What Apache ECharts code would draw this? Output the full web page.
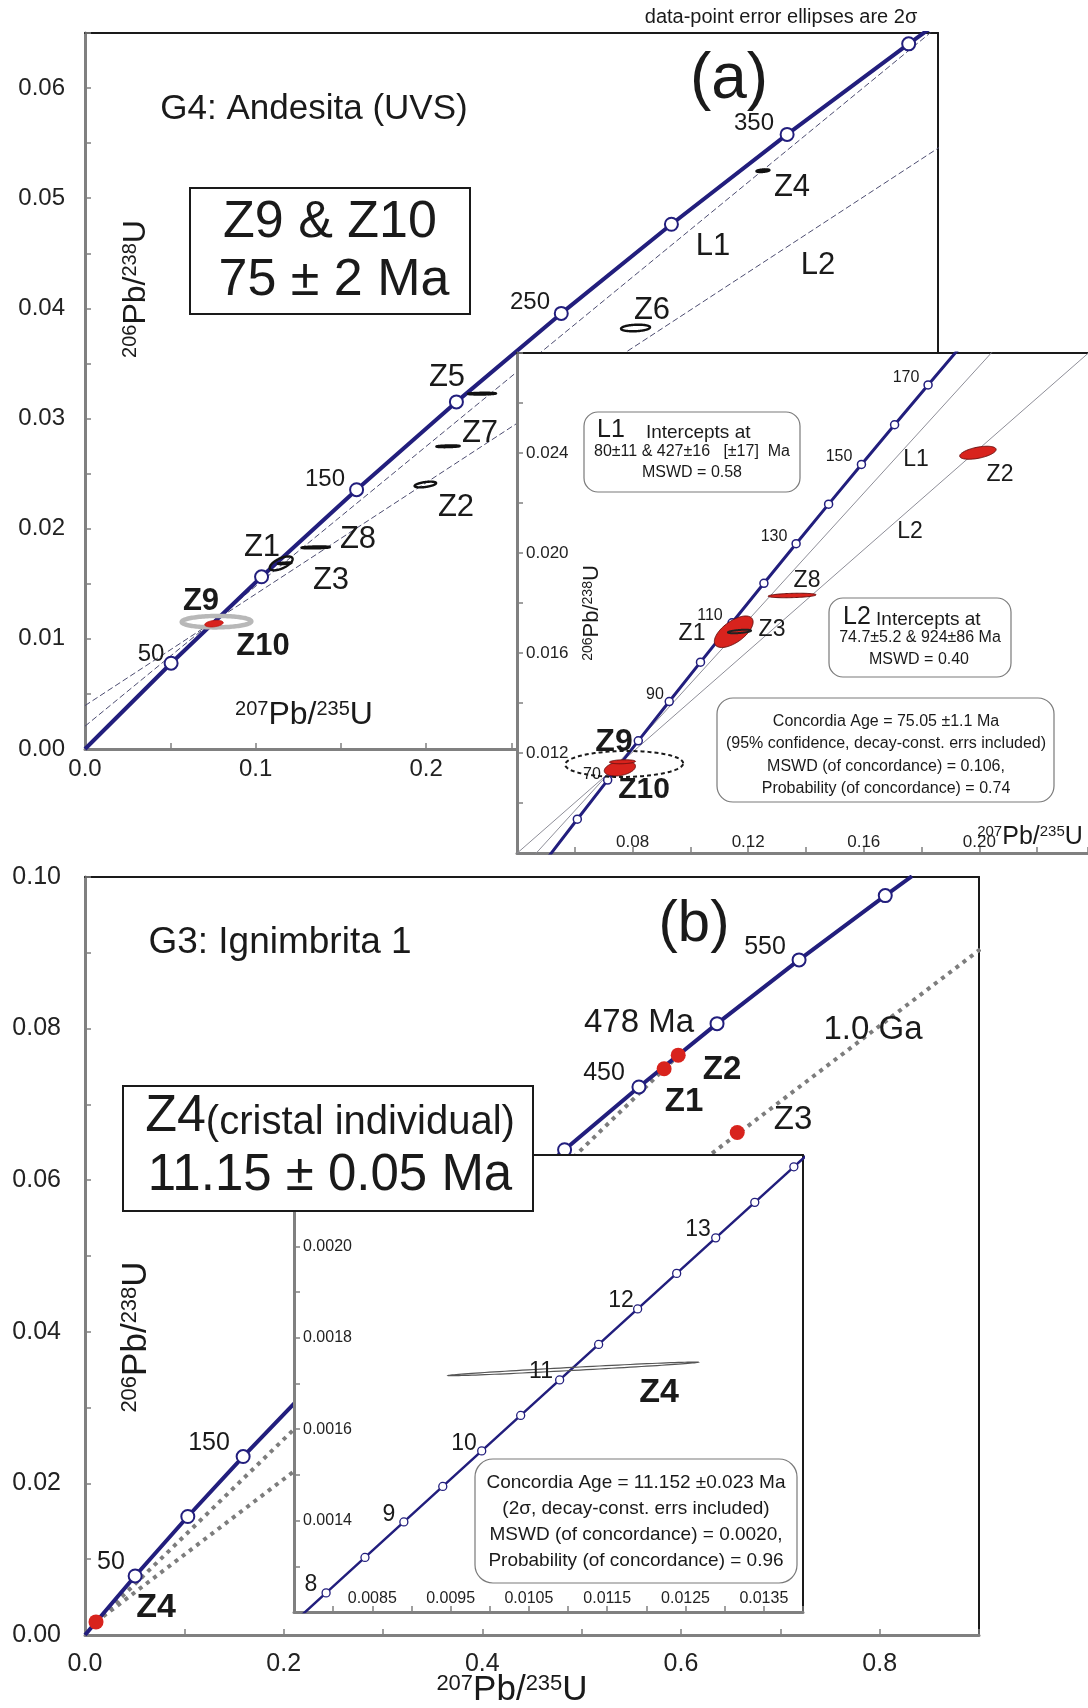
<!DOCTYPE html>
<html><head><meta charset="utf-8">
<script src="https://cdn.jsdelivr.net/npm/echarts/dist/echarts.min.js"></script>
<style>html,body{margin:0;padding:0;background:#fff}#c{width:1088px;height:1708px}</style>
</head><body><div id="c"></div>
<script>
// ---------------- DATA ----------------
// Panel (a) main: concordia points (Ma) and ratios
const mainA_ages = [0, 50, 100, 150, 200, 250, 300, 350, 400, 420];
const mainA_concX = [0, 0.050475, 0.103498, 0.159197, 0.217707, 0.279171, 0.343737, 0.411562, 0.482812, 0.512308];
const mainA_concY = [0, 0.0077864, 0.0156334, 0.0235416, 0.0315113, 0.0395430, 0.0476373, 0.0557947, 0.0640155, 0.0673218];
const mainA_markerAges = [50, 100, 150, 200, 250, 300, 350, 400];
// Panel (a) inset concordia
const insetA_ages = [40, 50, 60, 70, 80, 90, 100, 110, 120, 130, 140, 150, 160, 170, 180, 190];
const insetA_concX = [0.040180, 0.050475, 0.060872, 0.071371, 0.081975, 0.092683, 0.103498, 0.114419, 0.125449, 0.136588, 0.147837, 0.159197, 0.170670, 0.182256, 0.193957, 0.205774];
const insetA_concY = [0.0062243, 0.0077864, 0.0093509, 0.0109179, 0.0124873, 0.0140592, 0.0156334, 0.0172102, 0.0187893, 0.0203710, 0.0219550, 0.0235416, 0.0251306, 0.0267220, 0.0283160, 0.0299124];
const insetA_markerAges = [60, 70, 80, 90, 100, 110, 120, 130, 140, 150, 160, 170];
// Discordia lines (a): [x, y] end points
const lineL1 = [[0, 0.00207], [0.53, 0.06940]];
const lineL2 = [[0, 0.00394], [0.55, 0.05960]];
// Error ellipses (a): [cx, cy, sx, sy, rho]
const ellZ1 = [0.1150, 0.01685, 0.0067, 0.00063, 0.62];
const ellZ2 = [0.1995, 0.02401, 0.0063, 0.00026, 0.5];
const ellZ3 = [0.1170, 0.01686, 0.0040, 0.00007, 0.5];
const ellZ4 = [0.3974, 0.0525, 0.0038, 0.00012, 0.4];
const ellZ5 = [0.2327, 0.03226, 0.0082, 0.00008, 0.2];
const ellZ6 = [0.3227, 0.03822, 0.0085, 0.00030, 0.2];
const ellZ7 = [0.2128, 0.02748, 0.0068, 0.00008, 0.3];
const ellZ8 = [0.1352, 0.01830, 0.0083, 0.00009, 0.3];
const ellZ9 = [0.0771, 0.01156, 0.0204, 0.00052, 0.05];
const ellZ10 = [0.0756, 0.01138, 0.0054, 0.00030, 0.3];
const ellZ10b = [0.0765, 0.01165, 0.0045, 0.00008, 0.2];
// Panel (b) main concordia
const mainB_ages = [0, 50, 100, 150, 200, 250, 300, 350, 400, 450, 500, 550, 600, 615];
const mainB_concX = [0, 0.050475, 0.103498, 0.159197, 0.217707, 0.279171, 0.343737, 0.411562, 0.482812, 0.557657, 0.636279, 0.718871, 0.805631, 0.832503];
const mainB_concY = [0, 0.0077864, 0.0156334, 0.0235416, 0.0315113, 0.0395430, 0.0476373, 0.0557947, 0.0640155, 0.0723004, 0.0806498, 0.0890642, 0.097544, 0.1001009];
const mainB_markerAges = [50, 100, 150, 200, 250, 300, 350, 400, 450, 500, 550, 600];
// Panel (b) dotted reference lines
const lineB478 = [[0.0111, 0.00173], [0.6012, 0.07697]];
const lineB1Ga = [[0.0111, 0.00173], [1.6774, 0.16782]];
// Panel (b) zircon points
const pointNamesB = ['Z1', 'Z2', 'Z3', 'Z4'];
const pointXB = [0.583, 0.5972, 0.6566, 0.0111];
const pointYB = [0.0747, 0.0765, 0.0663, 0.00173];
// Panel (b) inset concordia
const insetB_ages = [7.5, 8, 8.5, 9, 9.5, 10, 10.5, 11, 11.5, 12, 12.5, 13, 13.5, 14, 14.5];
const insetB_concX = [0.0074137, 0.0079099, 0.0084064, 0.0089030, 0.0093999, 0.0098972, 0.0103946, 0.0108923, 0.0113902, 0.0118883, 0.0123867, 0.0128854, 0.0133843, 0.0138834, 0.0143825];
const insetB_concY = [0.0011641, 0.0012418, 0.0013194, 0.0013971, 0.0014748, 0.0015525, 0.0016301, 0.0017078, 0.0017855, 0.0018632, 0.0019409, 0.0020187, 0.0020964, 0.0021741, 0.0022518];
const insetB_markerAges = [8, 8.5, 9, 9.5, 10, 10.5, 11, 11.5, 12, 12.5, 13, 13.5, 14];
const ellZ4b = [0.011066, 0.001732, 0.0016, 0.0000150, 0.975];

// ---------------- STYLE ----------------
const FONT = "'Liberation Sans', Arial, Helvetica, sans-serif";
const NAVY = '#221e7d';
const RED = '#d8231d';
const AXG = '#808080';
const TXT = '#1a1a1a';

function pairs(xs, ys) { return xs.map((x, i) => [x, ys[i]]); }
function markers(ages, xs, ys, mAges) {
  const out = [];
  ages.forEach((a, i) => { if (mAges.indexOf(a) >= 0) out.push([xs[i], ys[i]]); });
  return out;
}
function isMult(v, s) { const r = v / s; return Math.abs(r - Math.round(r)) < 1e-6; }

function xAx(grid, min, max, interval, fmt, o) {
  return {
    type: 'value', gridIndex: grid, position: 'bottom', min, max, interval, zlevel: o.zl || 0, z: 1,
    axisLine: { show: true, onZero: false, lineStyle: { color: AXG, width: 3 } },
    axisTick: { show: true, inside: true, length: 6, lineStyle: { color: AXG, width: 1.5 } },
    splitLine: { show: false },
    axisLabel: { show: true, formatter: fmt, inside: !!o.inside, margin: o.margin, fontSize: o.fs, fontFamily: FONT, color: '#222', showMinLabel: true, showMaxLabel: true, hideOverlap: false }
  };
}
function yAx(grid, min, max, interval, fmt, o) {
  return {
    type: 'value', gridIndex: grid, position: 'left', min, max, interval, zlevel: o.zl || 0, z: 1,
    axisLine: { show: true, onZero: false, lineStyle: { color: AXG, width: 3 } },
    axisTick: { show: true, inside: true, length: 6, lineStyle: { color: AXG, width: 1.5 } },
    splitLine: { show: false },
    axisLabel: { show: true, formatter: fmt, inside: !!o.inside, margin: o.margin, fontSize: o.fs, fontFamily: FONT, color: '#222', showMinLabel: true, showMaxLabel: true, hideOverlap: false, padding: o.pad || 0 }
  };
}
function borderAx(kind, grid, min, max, zl, show) {
  return {
    type: 'value', gridIndex: grid, position: kind === 'x' ? 'top' : 'right', min, max, zlevel: zl, z: 1,
    axisLine: { show: show, onZero: false, lineStyle: { color: '#1a1a1a', width: 2 } },
    axisTick: { show: false }, axisLabel: { show: false }, splitLine: { show: false }
  };
}

function ellipseRender(style) {
  return function (params, api) {
    const cx = api.value(0), cy = api.value(1), sx = api.value(2), sy = api.value(3), r = api.value(4);
    const k = Math.sqrt(1 - r * r);
    const pts = [];
    for (let i = 0; i < 120; i++) {
      const t = i / 120 * 2 * Math.PI;
      pts.push(api.coord([cx + sx * Math.cos(t), cy + sy * (r * Math.cos(t) + k * Math.sin(t))]));
    }
    return { type: 'polygon', shape: { points: pts }, style: Object.assign({}, style) };
  };
}
function ellSeries(xi, data, style, zl, z) {
  return {
    type: 'custom', xAxisIndex: xi, yAxisIndex: xi, coordinateSystem: 'cartesian2d', zlevel: zl, z: z,
    data: data, encode: { x: 0, y: 1 }, renderItem: ellipseRender(style), silent: true, clip: true
  };
}
function lineSeries(xi, data, ls, zl, z) {
  return { type: 'line', xAxisIndex: xi, yAxisIndex: xi, data, symbol: 'none', lineStyle: ls, zlevel: zl, z: z, silent: true, clip: true, animation: false };
}
function markSeries(xi, data, size, bw, zl, z) {
  return { type: 'scatter', xAxisIndex: xi, yAxisIndex: xi, data, symbol: 'circle', symbolSize: size,
    itemStyle: { color: '#fff', borderColor: NAVY, borderWidth: bw, opacity: 1 }, zlevel: zl, z: z, silent: true };
}

// graphic helpers
function T(text, x, y, size, o) {
  o = o || {};
  return { type: 'text', x, y, z: o.z || 50, zlevel: o.zl || 0, rotation: o.rot || 0, silent: true,
    style: { text, fontSize: size, fontFamily: FONT, fontWeight: o.bold ? 'bold' : 'normal', fill: o.color || TXT,
      align: o.align || 'center', verticalAlign: 'middle', textAlign: o.align || 'center', textVerticalAlign: 'middle', rich: o.rich } };
}
function iso(a, b, c, d, m, s, x, y, o) {
  o = o || {};
  const rich = {
    s: { fontSize: s, fontFamily: FONT, verticalAlign: 'top', lineHeight: s, fill: TXT, color: TXT },
    m: { fontSize: m, fontFamily: FONT, verticalAlign: 'bottom', lineHeight: m, fill: TXT, color: TXT }
  };
  return T('{s|' + a + '}{m|' + b + '}{s|' + c + '}{m|' + d + '}', x, y, m, Object.assign({}, o, { rich }));
}
function R(x, y, w, h, o) {
  o = o || {};
  return { type: 'rect', shape: { x, y, width: w, height: h, r: o.r || 0 }, z: o.z || 40, zlevel: o.zl || 0, silent: true,
    style: { fill: '#fff', stroke: o.stroke || '#1a1a1a', lineWidth: o.lw || 2 } };
}
function boxHead(label, rest, x, y) {
  return T('{b|' + label + '}{n|' + rest + '}', x, y, 19, { zl: 1, align: 'left', rich: {
    b: { fontSize: 25, fontFamily: FONT, verticalAlign: 'bottom', lineHeight: 25, fill: TXT },
    n: { fontSize: 19, fontFamily: FONT, verticalAlign: 'bottom', lineHeight: 21, fill: TXT } } });
}

const graphics = [
  // ---- panel (a) main
  T('data-point error ellipses are 2\u03c3', 781, 17, 20),
  T('(a)', 729, 80, 64),
  T('G4: Andesita (UVS)', 314, 109, 35),
  R(190, 188, 280, 126),
  T('Z9 & Z10', 330, 223, 52),
  T('75 \u00b1 2 Ma', 334, 281, 52),
  iso('206', 'Pb/', '238', 'U', 32, 20, 136, 289, { rot: Math.PI / 2 }),
  iso('207', 'Pb/', '235', 'U', 32, 20, 304, 715),
  T('50', 151, 654, 24), T('150', 325, 479, 24), T('250', 530, 302, 24), T('350', 754, 123, 24),
  T('Z4', 792, 187, 31), T('L1', 713, 246, 31), T('L2', 818, 265, 31), T('Z6', 652, 310, 31),
  T('Z5', 447, 377, 31), T('Z7', 480, 433, 31), T('Z2', 456, 507, 31), T('Z8', 358, 539, 31),
  T('Z1', 262, 547, 31), T('Z3', 331, 580, 31),
  T('Z9', 201, 601, 31, { bold: true }), T('Z10', 263, 646, 31, { bold: true }),
  // ---- panel (a) inset
  T('70', 592, 775, 16, { zl: 1 }), T('90', 655, 695, 16, { zl: 1 }), T('110', 710, 616, 16, { zl: 1 }),
  T('130', 774, 537, 16, { zl: 1 }), T('150', 839, 457, 16, { zl: 1 }), T('170', 906, 378, 16, { zl: 1 }),
  T('L1', 916, 460, 23, { zl: 1 }), T('L2', 910, 532, 23, { zl: 1 }), T('Z2', 1000, 475, 23, { zl: 1 }),
  T('Z8', 807, 581, 23, { zl: 1 }), T('Z3', 772, 630, 23, { zl: 1 }), T('Z1', 692, 634, 23, { zl: 1 }),
  T('Z9', 614, 742, 32, { zl: 1, bold: true }), T('Z10', 644, 790, 30, { zl: 1, bold: true }),
  iso('206', 'Pb/', '238', 'U', 22, 14, 592, 613, { zl: 1, rot: Math.PI / 2 }),
  iso('207', 'Pb/', '235', 'U', 25, 15, 1030, 837, { zl: 1 }),
  R(584, 412, 216, 80, { zl: 1, r: 14, stroke: '#7a7a7a', lw: 1.2 }),
  boxHead('L1', '    Intercepts at', 597, 430),
  T('80\u00b111 & 427\u00b116   [\u00b117]  Ma', 692, 452, 16, { zl: 1 }),
  T('MSWD = 0.58', 692, 473, 16, { zl: 1 }),
  R(829, 598, 182, 79, { zl: 1, r: 14, stroke: '#7a7a7a', lw: 1.2 }),
  boxHead('L2', ' Intercepts at', 843, 617),
  T('74.7\u00b15.2 & 924\u00b186 Ma', 920, 638, 16, { zl: 1 }),
  T('MSWD = 0.40', 919, 660, 16, { zl: 1 }),
  R(717, 698, 337, 104, { zl: 1, r: 16, stroke: '#7a7a7a', lw: 1.2 }),
  T('Concordia Age = 75.05 \u00b11.1 Ma', 886, 722, 16, { zl: 1 }),
  T('(95% confidence, decay-const. errs included)', 886, 744, 16, { zl: 1 }),
  T('MSWD (of concordance) = 0.106,', 886, 767, 16, { zl: 1 }),
  T('Probability (of concordance) = 0.74', 886, 789, 16, { zl: 1 }),
  // ---- panel (b) main
  T('G3: Ignimbrita 1', 280, 943, 37),
  T('(b)', 694, 925, 58),
  T('550', 765, 947, 25), T('478 Ma', 639, 1023, 33), T('450', 604, 1073, 25),
  T('Z2', 722, 1070, 33, { bold: true }), T('Z1', 684, 1102, 33, { bold: true }), T('Z3', 793, 1120, 33),
  T('1.0 Ga', 873, 1030, 33),
  T('150', 209, 1443, 25), T('50', 111, 1562, 25), T('Z4', 156, 1608, 34, { bold: true }),
  iso('206', 'Pb/', '238', 'U', 35, 22, 136, 1337, { rot: Math.PI / 2 }),
  iso('207', 'Pb/', '235', 'U', 35, 22, 512, 1690),
  // ---- panel (b) inset
  T('8', 311, 1585, 23, { zl: 1 }), T('9', 389, 1515, 23, { zl: 1 }), T('10', 464, 1444, 23, { zl: 1 }),
  T('11', 541, 1372, 23, { zl: 1 }), T('12', 621, 1301, 23, { zl: 1 }), T('13', 698, 1230, 23, { zl: 1 }),
  T('Z4', 659, 1393, 34, { zl: 1, bold: true }),
  R(475, 1459, 322, 124, { zl: 1, r: 18, stroke: '#7a7a7a', lw: 1.2 }),
  T('Concordia Age = 11.152 \u00b10.023 Ma', 636, 1483, 19, { zl: 1 }),
  T('(2\u03c3, decay-const. errs included)', 636, 1509, 19, { zl: 1 }),
  T('MSWD (of concordance) = 0.0020,', 636, 1535, 19, { zl: 1 }),
  T('Probability (of concordance) = 0.96', 636, 1561, 19, { zl: 1 }),
  // ---- Z4 box (b), on top of inset
  R(123, 1086, 410, 125, { zl: 2 }),
  T('{b|Z4}{n|(cristal individual)}', 330, 1117, 40, { zl: 2, rich: {
    b: { fontSize: 52, fontFamily: FONT, verticalAlign: 'bottom', lineHeight: 52, fill: TXT },
    n: { fontSize: 40, fontFamily: FONT, verticalAlign: 'bottom', lineHeight: 44, fill: TXT } } }),
  T('11.15 \u00b1 0.05 Ma', 330, 1176, 51, { zl: 2 })
];

const option = {
  animation: false,
  backgroundColor: '#fff',
  grid: [
    { left: 85, top: 33, width: 853, height: 716, outerBoundsMode: 'none' },
    { left: 517, top: 353, width: 571, height: 500, show: true, backgroundColor: '#fff', borderWidth: 0, zlevel: 1, z: 0, outerBoundsMode: 'none' },
    { left: 85, top: 877, width: 894, height: 758, outerBoundsMode: 'none' },
    { left: 294, top: 1155, width: 509, height: 457, show: true, backgroundColor: '#fff', borderWidth: 0, zlevel: 1, z: 0, outerBoundsMode: 'none' }
  ],
  xAxis: [
    xAx(0, 0, 0.5, 0.05, v => isMult(v, 0.1) ? v.toFixed(1) : '', { fs: 24, margin: 8 }),
    borderAx('x', 0, 0, 0.5, 0, true),
    xAx(1, 0.04, 0.2376, 0.02, v => (isMult(v, 0.04) && v > 0.05 && v < 0.23) ? v.toFixed(2) : '', { fs: 17, margin: 2, inside: true, zl: 1 }),
    borderAx('x', 1, 0.04, 0.2376, 1, true),
    xAx(2, 0, 0.9, 0.1, v => isMult(v, 0.2) ? v.toFixed(1) : '', { fs: 25, margin: 17 }),
    borderAx('x', 2, 0, 0.9, 0, true),
    xAx(3, 0.0075, 0.014, 0.0005, v => (isMult(v - 0.0005, 0.001) && v > 0.008) ? v.toFixed(4) : '', { fs: 16, margin: 5, inside: true, zl: 1 }),
    borderAx('x', 3, 0.0075, 0.014, 1, true)
  ],
  yAxis: [
    yAx(0, 0, 0.065, 0.005, v => isMult(v, 0.01) ? v.toFixed(2) : '', { fs: 24, margin: 20 }),
    borderAx('y', 0, 0, 0.065, 0, true),
    yAx(1, 0.008, 0.028, 0.002, v => (isMult(v, 0.004) && v > 0.009 && v < 0.027) ? v.toFixed(3) : '', { fs: 17, margin: 9, inside: true, zl: 1, pad: [0, 0, 8, 0] }),
    borderAx('y', 1, 0.008, 0.028, 1, false),
    yAx(2, 0, 0.1, 0.01, v => isMult(v, 0.02) ? v.toFixed(2) : '', { fs: 25, margin: 24 }),
    borderAx('y', 2, 0, 0.1, 0, true),
    yAx(3, 0.0012, 0.0022, 0.0001, v => (isMult(v, 0.0002) && v > 0.0013 && v < 0.0021) ? v.toFixed(4) : '', { fs: 16, margin: 9, inside: true, zl: 1 }),
    borderAx('y', 3, 0.0012, 0.0022, 1, true)
  ],
  series: [
    // panel (a) main
    lineSeries(0, lineL1, { color: '#4c4c70', width: 1, type: [6, 3] }, 0, 2),
    lineSeries(0, lineL2, { color: '#4c4c70', width: 1, type: [6, 3] }, 0, 2),
    lineSeries(0, pairs(mainA_concX, mainA_concY), { color: NAVY, width: 4 }, 0, 3),
    ellSeries(0, [ellZ1, ellZ3, ellZ8, ellZ2, ellZ7, ellZ5, ellZ6, ellZ4], { fill: 'rgba(0,0,0,0)', stroke: '#111', lineWidth: 2.4 }, 0, 4),
    ellSeries(0, [ellZ9], { fill: 'rgba(0,0,0,0)', stroke: '#b8b8b8', lineWidth: 4.5 }, 0, 5),
    ellSeries(0, [ellZ10], { fill: RED, stroke: '#c01c16', lineWidth: 1 }, 0, 6),
    markSeries(0, markers(mainA_ages, mainA_concX, mainA_concY, mainA_markerAges), 13, 2, 0, 7),
    // panel (a) inset
    lineSeries(2, lineL1, { color: '#8e8e98', width: 1 }, 1, 2),
    lineSeries(2, lineL2, { color: '#8e8e98', width: 1 }, 1, 2),
    lineSeries(2, pairs(insetA_concX, insetA_concY), { color: NAVY, width: 3 }, 1, 3),
    markSeries(2, markers(insetA_ages, insetA_concX, insetA_concY, insetA_markerAges), 8, 1.5, 1, 4),
    ellSeries(2, [ellZ1, ellZ2, ellZ8, ellZ10, ellZ10b], { fill: RED, stroke: '#6a1010', lineWidth: 1 }, 1, 5),
    ellSeries(2, [ellZ3], { fill: 'rgba(0,0,0,0)', stroke: '#222', lineWidth: 2 }, 1, 6),
    ellSeries(2, [ellZ9], { fill: 'rgba(0,0,0,0)', stroke: '#1a1a1a', lineWidth: 2, lineDash: [4, 3] }, 1, 6),
    // panel (b) main
    lineSeries(4, lineB478, { color: '#7d7d7d', width: 4, type: [4, 5] }, 0, 2),
    lineSeries(4, lineB1Ga, { color: '#7d7d7d', width: 4, type: [4, 5] }, 0, 2),
    lineSeries(4, pairs(mainB_concX, mainB_concY), { color: NAVY, width: 4 }, 0, 3),
    markSeries(4, markers(mainB_ages, mainB_concX, mainB_concY, mainB_markerAges), 13, 2, 0, 4),
    { type: 'scatter', xAxisIndex: 4, yAxisIndex: 4, data: pairs(pointXB, pointYB), symbol: 'circle', symbolSize: 15,
      itemStyle: { color: RED, opacity: 1 }, zlevel: 0, z: 6, silent: true },
    // panel (b) inset
    lineSeries(6, pairs(insetB_concX, insetB_concY), { color: NAVY, width: 2.5 }, 1, 3),
    markSeries(6, markers(insetB_ages, insetB_concX, insetB_concY, insetB_markerAges), 8, 1.3, 1, 4),
    ellSeries(6, [ellZ4b], { fill: 'rgba(0,0,0,0)', stroke: '#555', lineWidth: 1.2 }, 1, 5)
  ],
  graphic: graphics
};

const chart = echarts.init(document.getElementById('c'), null, { renderer: 'canvas', width: 1088, height: 1708 });
chart.setOption(option);
</script></body></html>
